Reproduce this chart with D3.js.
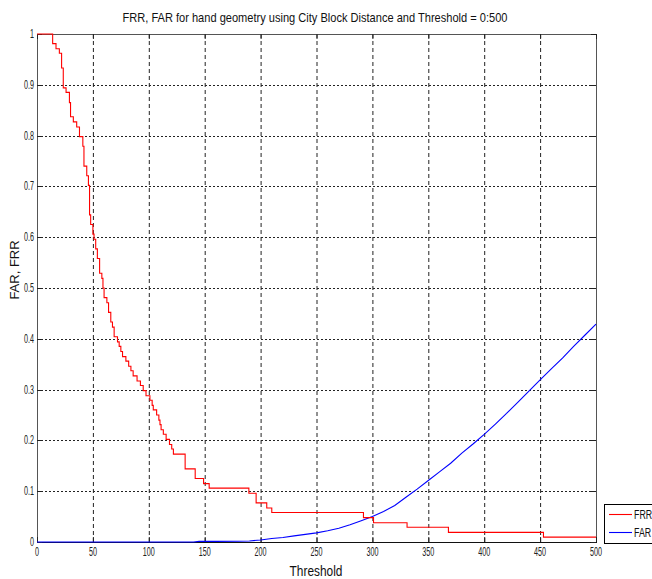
<!DOCTYPE html>
<html><head><meta charset="utf-8">
<script src="https://cdn.jsdelivr.net/npm/d3@7"></script>
<style>html,body{margin:0;padding:0;background:#fff;}svg{display:block;}</style>
</head><body>
<svg id="chart" width="652" height="579"></svg>
<script>
// ---- data ----
const titleText = "FRR, FAR for hand geometry using City Block Distance and Threshold = 0:500";
const xLabelText = "Threshold";
const yLabelText = "FAR, FRR";
const xTicks = [0,50,100,150,200,250,300,350,400,450,500];
const xTickLabels = ["0","50","100","150","200","250","300","350","400","450","500"];
const yTicks = [0,0.1,0.2,0.3,0.4,0.5,0.6,0.7,0.8,0.9,1];
const yTickLabels = ["0","0.1","0.2","0.3","0.4","0.5","0.6","0.7","0.8","0.9","1"];
const seriesNames = ["FRR","FAR"];
// FRR: step function (threshold where step starts, value)
const frrT = [0,14,17,20,22,23.5,26,29,30,32.5,35.5,38,41,42,44.5,46,47,48,50,51,52.5,54,56,58,59,60,62.5,64,66,67.5,69,72,73.5,75,76.5,79.5,82,84,86,89.5,92.5,95,97.5,101,103,104,107,109,110,111,113,115.5,118.5,120.5,122,132.5,141.5,149,154,189.5,196,205.5,210,292,301,331,368,453,500];
const frrV = [1,0.981,0.971,0.962,0.933,0.894,0.885,0.865,0.837,0.827,0.817,0.798,0.779,0.740,0.721,0.702,0.644,0.625,0.606,0.596,0.577,0.558,0.529,0.519,0.500,0.481,0.471,0.452,0.433,0.423,0.404,0.394,0.385,0.375,0.365,0.356,0.346,0.337,0.327,0.317,0.308,0.298,0.288,0.279,0.269,0.260,0.250,0.240,0.231,0.221,0.212,0.202,0.192,0.183,0.173,0.144,0.125,0.115,0.106,0.096,0.077,0.067,0.058,0.048,0.038,0.029,0.019,0.0096,0.0096];
// FAR: smooth rising curve
const farT = [0,140,145,160,180,190,200,210,220,230,240,250,260,270,280,290,300,310,320,330,340,350,360,370,380,390,400,410,420,430,440,450,460,470,480,490,500];
const farV = [0,0,0.0012,0.0012,0.0015,0.002,0.004,0.007,0.009,0.012,0.015,0.018,0.022,0.027,0.034,0.042,0.050,0.060,0.072,0.088,0.104,0.121,0.138,0.155,0.175,0.193,0.212,0.232,0.253,0.275,0.297,0.319,0.341,0.362,0.385,0.407,0.429];

// ---- layout ----
const L = 37, R = 596, T = 34, B = 542;
const svg = d3.select("#chart");
const x = d3.scaleLinear().domain([0,500]).range([L,R]);
const y = d3.scaleLinear().domain([0,1]).range([B,T]);
const condensed = 0.6;

svg.append("rect").attr("width",652).attr("height",579).attr("fill","#fff");

// grid
const grid = svg.append("g");
grid.selectAll("line.v").data(xTicks.slice(1,-1)).enter().append("line")
  .attr("x1",d=>x(d)+0.5).attr("x2",d=>x(d)+0.5).attr("y1",T).attr("y2",B)
  .attr("stroke","#222").attr("stroke-width",1).attr("stroke-dasharray","4,3");
grid.selectAll("line.h").data(yTicks.slice(1,-1)).enter().append("line")
  .attr("x1",L).attr("x2",R).attr("y1",d=>Math.round(y(d))+0.5).attr("y2",d=>Math.round(y(d))+0.5)
  .attr("stroke","#222").attr("stroke-width",1).attr("stroke-dasharray","2,2");

// box
svg.append("rect").attr("x",L+0.5).attr("y",T+0.5).attr("width",R-L).attr("height",B-T)
  .attr("fill","none").attr("stroke","#555").attr("stroke-width",1);
svg.append("line").attr("x1",L).attr("x2",R+1).attr("y1",B+0.5).attr("y2",B+0.5).attr("stroke","#111");

// ticks (inward, all sides)
const tk = 5;
const ticks = svg.append("g").attr("stroke","#222").attr("stroke-width",1);
xTicks.forEach(d=>{
  ticks.append("line").attr("x1",x(d)+0.5).attr("x2",x(d)+0.5).attr("y1",B).attr("y2",B-tk);
  ticks.append("line").attr("x1",x(d)+0.5).attr("x2",x(d)+0.5).attr("y1",T).attr("y2",T+tk);
});
yTicks.forEach(d=>{
  ticks.append("line").attr("x1",L).attr("x2",L+tk).attr("y1",Math.round(y(d))+0.5).attr("y2",Math.round(y(d))+0.5);
  ticks.append("line").attr("x1",R).attr("x2",R-tk).attr("y1",Math.round(y(d))+0.5).attr("y2",Math.round(y(d))+0.5);
});

// tick labels
const lab = svg.append("g").attr("font-family","Arial, 'Liberation Sans', sans-serif").attr("font-size",12).attr("fill","#222");
xTicks.forEach((d,i)=>{
  lab.append("text").attr("transform",`translate(${x(d)},556) scale(${condensed},1)`)
    .attr("text-anchor","middle").text(xTickLabels[i]);
});
yTicks.forEach((d,i)=>{
  lab.append("text").attr("transform",`translate(34,${y(d)+4}) scale(${condensed},1)`)
    .attr("text-anchor","end").text(yTickLabels[i]);
});

// lines
const frrData = frrT.map((t,i)=>[t,frrV[i]]);
const farData = farT.map((t,i)=>[t,farV[i]]);
svg.append("path").datum(farData)
  .attr("d",d3.line().x(d=>x(d[0])).y(d=>y(d[1])))
  .attr("fill","none").attr("stroke","#0000ff").attr("stroke-width",1.1);
svg.append("path").datum(frrData)
  .attr("d",d3.line().curve(d3.curveStepAfter).x(d=>x(d[0])).y(d=>y(d[1])))
  .attr("fill","none").attr("stroke","#ff0000").attr("stroke-width",1.1);

// title
svg.append("text").attr("x",315).attr("y",22).attr("text-anchor","middle")
  .attr("font-family","Arial, 'Liberation Sans', sans-serif").attr("font-size",13).attr("fill","#111")
  .attr("textLength",385).attr("lengthAdjust","spacingAndGlyphs").text(titleText);

// axis labels
svg.append("text").attr("transform","translate(316,576) scale(0.85,1)").attr("text-anchor","middle")
  .attr("font-family","Arial, 'Liberation Sans', sans-serif").attr("font-size",14).attr("fill","#111").text(xLabelText);
svg.append("text").attr("transform","translate(19,270) rotate(-90)").attr("text-anchor","middle")
  .attr("font-family","Arial, 'Liberation Sans', sans-serif").attr("font-size",13).attr("fill","#111").text(yLabelText);

// legend
const lg = svg.append("g");
lg.append("rect").attr("x",604.5).attr("y",504.5).attr("width",60).attr("height",39)
  .attr("fill","#fff").attr("stroke","#000").attr("stroke-width",1);
const legColors = ["#ff0000","#0000ff"];
const legY = [514,532];
seriesNames.forEach((n,i)=>{
  lg.append("line").attr("x1",609).attr("x2",632).attr("y1",legY[i]+0.5).attr("y2",legY[i]+0.5)
    .attr("stroke",legColors[i]).attr("stroke-width",1.1);
  lg.append("text").attr("transform",`translate(634,${legY[i]+4.5}) scale(0.68,1)`)
    .attr("font-family","Arial, 'Liberation Sans', sans-serif").attr("font-size",13).attr("fill","#111").text(n);
});
</script>
</body></html>
